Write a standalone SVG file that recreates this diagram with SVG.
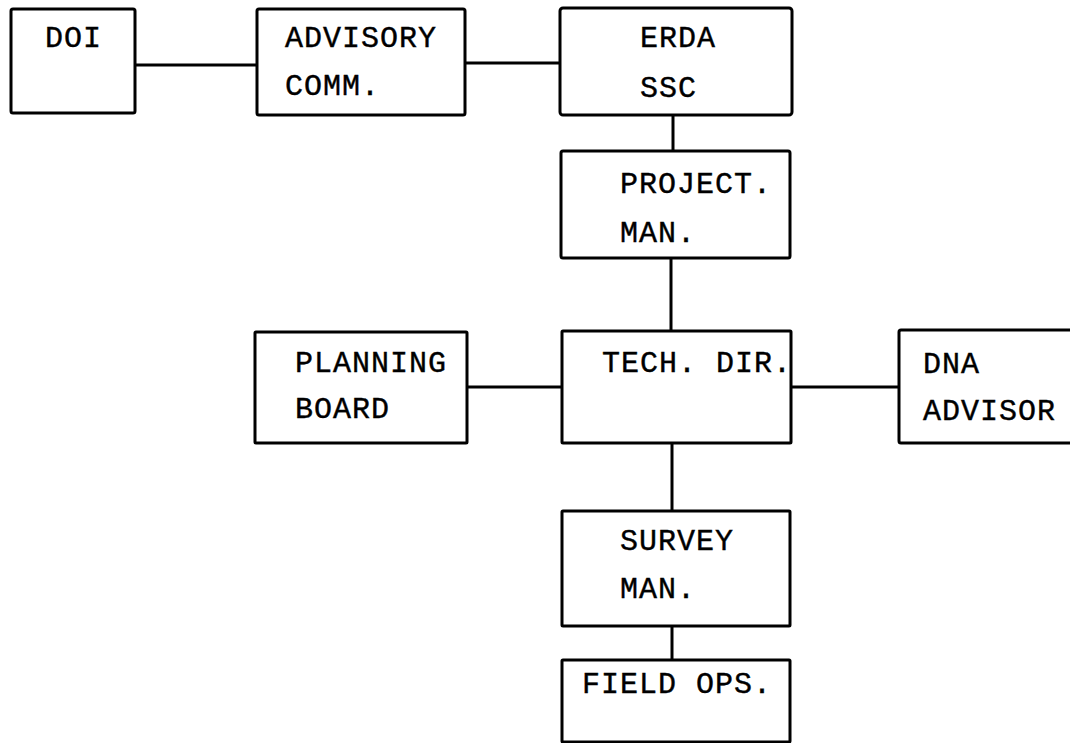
<svg xmlns="http://www.w3.org/2000/svg" width="1070" height="743" viewBox="0 0 1070 743">
<style>
.box{fill:#fff;stroke:#000;stroke-width:3;}
.lbl{font-family:"Liberation Mono","Courier New",monospace;font-size:30px;letter-spacing:1px;fill:#000;stroke:#000;stroke-width:0.4px;}
.conn{stroke:#000;stroke-width:3;fill:none;}
</style>
<rect width="1070" height="743" fill="#fff"/>
<g id="connectors">
<line class="conn" x1="135" y1="65" x2="257" y2="65"/>
<line class="conn" x1="465" y1="63" x2="560" y2="63"/>
<line class="conn" x1="673" y1="115" x2="673" y2="151"/>
<line class="conn" x1="671" y1="258" x2="671" y2="331"/>
<line class="conn" x1="467" y1="387" x2="562" y2="387"/>
<line class="conn" x1="791" y1="387" x2="899" y2="387"/>
<line class="conn" x1="672" y1="443" x2="672" y2="511"/>
<line class="conn" x1="672" y1="626" x2="672" y2="660"/>
</g>
<g id="doi"><rect class="box" x="11" y="9" width="124" height="104" rx="2"/><text class="lbl" x="45" y="47">DOI</text></g>
<g id="advisory"><rect class="box" x="257" y="9" width="208" height="106" rx="2"/><text class="lbl" x="285" y="47">ADVISORY</text><text class="lbl" x="285" y="95">COMM.</text></g>
<g id="erda"><rect class="box" x="560" y="8" width="232" height="107" rx="3"/><text class="lbl" x="640" y="47">ERDA</text><text class="lbl" x="640" y="97">SSC</text></g>
<g id="project"><rect class="box" x="561" y="151" width="229" height="107" rx="2"/><text class="lbl" x="620" y="193">PROJECT.</text><text class="lbl" x="620" y="242">MAN.</text></g>
<g id="planning"><rect class="box" x="255" y="332" width="212" height="111" rx="1"/><text class="lbl" x="295" y="372">PLANNING</text><text class="lbl" x="295" y="418">BOARD</text></g>
<g id="tech"><rect class="box" x="562" y="331" width="229" height="112" rx="1"/><text class="lbl" x="602" y="372">TECH. DIR.</text></g>
<g id="dna"><rect class="box" x="899" y="330" width="200" height="113" rx="2"/><text class="lbl" x="923" y="373">DNA</text><text class="lbl" x="923" y="420">ADVISOR</text></g>
<g id="survey"><rect class="box" x="562" y="511" width="228" height="115" rx="1"/><text class="lbl" x="620" y="550">SURVEY</text><text class="lbl" x="620" y="598">MAN.</text></g>
<g id="field"><rect class="box" x="562" y="660" width="228" height="82" rx="1"/><text class="lbl" x="582" y="693">FIELD OPS.</text></g>
</svg>
